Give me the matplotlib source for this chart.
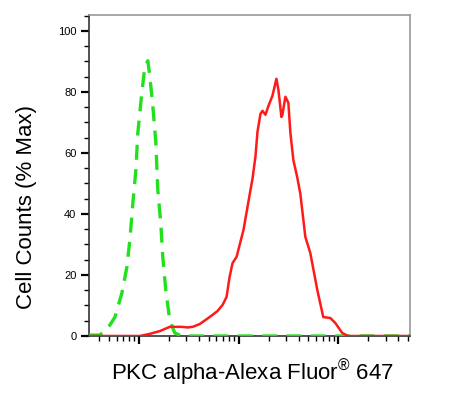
import numpy as np
import matplotlib
matplotlib.use('Agg')
import matplotlib.pyplot as plt
from matplotlib.ticker import LogLocator, MultipleLocator, NullFormatter

plt.rcParams['font.family'] = ['Liberation Sans', 'DejaVu Sans']
plt.rcParams['mathtext.fontset'] = 'custom'
plt.rcParams['mathtext.rm'] = 'Liberation Sans'

# Data (x as log10 of intensity, y as % max)
red_log = [2.50, 3.01, 3.11, 3.21, 3.31, 3.43, 3.49, 3.54, 3.61, 3.71, 3.79, 3.84,
           3.88, 3.91, 3.94, 3.98, 4.05, 4.09, 4.12, 4.14, 4.17, 4.19, 4.22, 4.24,
           4.27, 4.30, 4.34, 4.38, 4.40, 4.43, 4.44, 4.47, 4.50, 4.52, 4.55, 4.59,
           4.62, 4.67, 4.72, 4.79, 4.85, 4.92, 4.97, 5.04, 5.10, 5.72]
red_pct = [0, 0, 0.7, 1.6, 3.0, 3.0, 2.8, 3.0, 3.9, 6.2, 8.2, 10.2,
           12.8, 19.3, 23.9, 25.9, 34.8, 42.3, 47.9, 51.5, 58.9, 66.9, 72.8, 73.8,
           72.5, 75.4, 78.7, 84.3, 80.7, 71.8, 72.5, 78.4, 76.4, 66.6, 57.7, 51.8,
           46.6, 32.5, 27.2, 15.1, 6.2, 5.9, 4.3, 1.0, 0, 0]

green_log = [2.49, 2.61, 2.71, 2.76, 2.83, 2.88, 2.91, 2.94, 2.97, 2.99, 3.03, 3.06,
             3.09, 3.11, 3.14, 3.17, 3.19, 3.22, 3.24, 3.27, 3.31, 3.36, 3.43, 5.72]
green_pct = [0.3, 0.3, 3.6, 6.2, 14.1, 22.6, 31.5, 43.6, 54.4, 66.6, 79.7, 88.2,
             90.2, 85.2, 75.4, 63.6, 47.9, 37.0, 25.9, 15.1, 5.2, 1.0, 0, 0]

yticks = [0, 20, 40, 60, 80, 100]
xlabel = 'PKC alpha-Alexa Fluor$^{®}$ 647'
ylabel = 'Cell Counts (% Max)'

fig = plt.figure(figsize=(4.76, 3.95), dpi=100)
ax = fig.add_axes([89/476, 1-336/395, (410-89)/476, (336-15)/395])

ax.plot(10**np.array(green_log), green_pct, color='#22e01e', lw=2.4,
        dashes=(4.5, 2.8), zorder=3)
ax.plot(10**np.array(red_log), red_pct, color='#ff1a1a', lw=1.8, zorder=4,
        solid_joinstyle='round')

ax.set_xscale('log')
ax.set_xlim(10**2.5, 10**5.72)
ax.set_ylim(0, 105.2)
ax.xaxis.set_major_locator(LogLocator(base=10, numticks=10))
ax.xaxis.set_minor_locator(LogLocator(base=10, subs=np.arange(2, 10), numticks=20))
ax.xaxis.set_major_formatter(NullFormatter())
ax.xaxis.set_minor_formatter(NullFormatter())
ax.set_yticks(yticks)
ax.yaxis.set_minor_locator(MultipleLocator(5))

ax.tick_params(axis='both', which='major', direction='out', length=6, width=1.6,
               color='black', labelsize=8, pad=3)
ax.tick_params(axis='both', which='minor', direction='out', length=3.5, width=1,
               color='black')

for s in ['top', 'right']:
    ax.spines[s].set_color('#999999')
    ax.spines[s].set_linewidth(1.2)
for s in ['left', 'bottom']:
    ax.spines[s].set_color('#333333')
    ax.spines[s].set_linewidth(1.2)

fig.text(27/476, 1-207/395, ylabel, rotation=90, ha='center', va='center', fontsize=16)
fig.text(252/476, 1-372/395, xlabel, ha='center', va='center', fontsize=16)

fig.savefig('out.png', dpi=100)
